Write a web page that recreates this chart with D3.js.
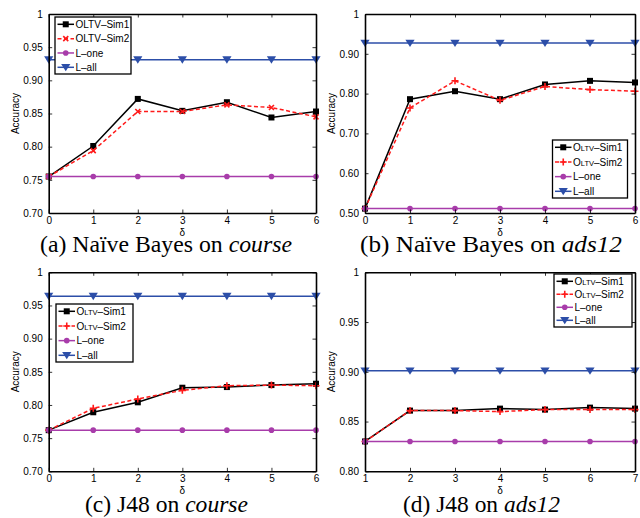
<!DOCTYPE html>
<html><head><meta charset="utf-8">
<script src="https://cdn.jsdelivr.net/npm/d3@7/dist/d3.min.js"></script>
<style>body{margin:0;background:#fff;}svg{display:block;}</style>
</head><body>
<script>
// ---- data ----
const xA = [0,1,2,3,4,5,6];
const simA1 = [0.755,0.801,0.872,0.854,0.867,0.844,0.853];
const simA2 = [0.755,0.794,0.853,0.853,0.863,0.859,0.845];
const oneA  = [0.755,0.755,0.755,0.755,0.755,0.755,0.755];
const allA  = [0.931,0.931,0.931,0.931,0.931,0.931,0.931];
const yTicksA = [0.70,0.75,0.80,0.85,0.90,0.95,1];

const xB = [0,1,2,3,4,5,6];
const simB1 = [0.511,0.786,0.806,0.786,0.823,0.832,0.828];
const simB2 = [0.511,0.764,0.832,0.783,0.818,0.810,0.806];
const oneB  = [0.511,0.511,0.511,0.511,0.511,0.511,0.511];
const allB  = [0.927,0.927,0.927,0.927,0.927,0.927,0.927];
const yTicksB = [0.50,0.60,0.70,0.80,0.90,1];

const xC = [0,1,2,3,4,5,6];
const simC1 = [0.762,0.789,0.804,0.826,0.827,0.830,0.832];
const simC2 = [0.762,0.795,0.809,0.822,0.829,0.830,0.829];
const oneC  = [0.762,0.762,0.762,0.762,0.762,0.762,0.762];
const allC  = [0.964,0.964,0.964,0.964,0.964,0.964,0.964];
const yTicksC = [0.70,0.75,0.80,0.85,0.90,0.95,1];

const xD = [1,2,3,4,5,6,7];
const simD1 = [0.830,0.861,0.861,0.863,0.862,0.864,0.863];
const simD2 = [0.830,0.861,0.861,0.860,0.862,0.862,0.862];
const oneD  = [0.830,0.830,0.830,0.830,0.830,0.830,0.830];
const allD  = [0.901,0.901,0.901,0.901,0.901,0.901,0.901];
const yTicksD = [0.80,0.85,0.90,0.95,1];

const seriesNames = ["Sim1","Sim2","L\u2013one","L\u2013all"];
const titles = [
  ["(a) Na\u00efve Bayes on ","course"],
  ["(b) Na\u00efve Bayes on ","ads12"],
  ["(c) J48 on ","course"],
  ["(d) J48 on ","ads12"]
];

// ---- layout ----
const W = 640, H = 518;
const svg = d3.select("body").append("svg").attr("width",W).attr("height",H);
const FONT = "'Liberation Sans', Arial, Helvetica, sans-serif";
const SERIF = "'Liberation Serif', 'Times New Roman', Times, serif";
const C_ONE = "#a83caa", C_ALL = "#2c4ea8", C_RED = "#ff1a1a";

const panels = [
  {x:xA, s1:simA1, s2:simA2, one:oneA, all:allA, yt:yTicksA, ydom:[0.70,1], box:[48.7,316,14,213],
   sim2mark:"x", smallcaps:false, leg:{x:55,y:17,w:76,h:57}, title:titles[0], tx:40, tw:252, ty:252},
  {x:xB, s1:simB1, s2:simB2, one:oneB, all:allB, yt:yTicksB, ydom:[0.50,1], box:[365,635,14,213],
   sim2mark:"+", smallcaps:true, leg:{x:552.5,y:140,w:75,h:58}, title:titles[1], tx:360, tw:262, ty:252},
  {x:xC, s1:simC1, s2:simC2, one:oneC, all:allC, yt:yTicksC, ydom:[0.70,1], box:[48.7,316,272.3,471.3],
   sim2mark:"+", smallcaps:true, leg:{x:56,y:304,w:77,h:58}, title:titles[2], tx:85, tw:163, ty:512},
  {x:xD, s1:simD1, s2:simD2, one:oneD, all:allD, yt:yTicksD, ydom:[0.80,1], box:[365,635,272.3,471.3],
   sim2mark:"+", smallcaps:true, leg:{x:554,y:274,w:78,h:53}, title:titles[3], tx:403, tw:157, ty:512}
];

function marker(g, type, cx, cy, color){
  if(type==="sq"){
    g.append("rect").attr("x",cx-3).attr("y",cy-3).attr("width",6).attr("height",6).attr("fill","#000");
  } else if(type==="x"){
    g.append("path").attr("d",`M${cx-2.5},${cy-2.5}L${cx+2.5},${cy+2.5}M${cx-2.5},${cy+2.5}L${cx+2.5},${cy-2.5}`)
      .attr("stroke",color).attr("stroke-width",1.6).attr("fill","none");
  } else if(type==="+"){
    g.append("path").attr("d",`M${cx-3.5},${cy}L${cx+3.5},${cy}M${cx},${cy-3.5}L${cx},${cy+3.5}`)
      .attr("stroke",color).attr("stroke-width",1.6).attr("fill","none");
  } else if(type==="o"){
    g.append("circle").attr("cx",cx).attr("cy",cy).attr("r",2.8).attr("fill",color);
  } else if(type==="v"){
    g.append("path").attr("d",`M${cx-4.6},${cy-3.4}L${cx+4.6},${cy-3.4}L${cx},${cy+4}Z`).attr("fill",color);
  }
}

panels.forEach(p=>{
  const [x0,x1,y0,y1] = p.box;
  const xs = d3.scaleLinear().domain(d3.extent(p.x)).range([x0,x1]);
  const ys = d3.scaleLinear().domain(p.ydom).range([y1,y0]);
  const g = svg.append("g");

  const line = (vals)=>d3.line().x((d,i)=>xs(p.x[i])).y(d=>ys(d))(vals);
  const series = [
    {v:p.s1, color:"#000", dash:null, m:"sq"},
    {v:p.s2, color:C_RED, dash:"4,2.5", m:p.sim2mark},
    {v:p.one, color:C_ONE, dash:null, m:"o"},
    {v:p.all, color:C_ALL, dash:null, m:"v"}
  ];
  series.forEach(s=>{
    g.append("path").attr("d",line(s.v)).attr("fill","none").attr("stroke",s.color)
      .attr("stroke-width",1.5).attr("stroke-dasharray",s.dash);
    s.v.forEach((d,i)=>marker(g,s.m,xs(p.x[i]),ys(d),s.color));
  });

  const fmt = d=> d===1 ? "1" : d3.format(".2f")(d);
  const axL = d3.axisLeft(ys).tickValues(p.yt).tickFormat(fmt).tickSizeInner(-3.5).tickSizeOuter(0).tickPadding(6);
  const axR = d3.axisRight(ys).tickValues(p.yt).tickFormat("").tickSizeInner(-3.5).tickSizeOuter(0);
  const axB = d3.axisBottom(xs).tickValues(p.x).tickFormat(d3.format("d")).tickSizeInner(-3.5).tickSizeOuter(0).tickPadding(4);
  const axT = d3.axisTop(xs).tickValues(p.x).tickFormat("").tickSizeInner(-3.5).tickSizeOuter(0);
  const aL = g.append("g").attr("transform",`translate(${x0},0)`).call(axL);
  const aR = g.append("g").attr("transform",`translate(${x1},0)`).call(axR);
  const aB = g.append("g").attr("transform",`translate(0,${y1})`).call(axB);
  const aT = g.append("g").attr("transform",`translate(0,${y0})`).call(axT);
  [aL,aR,aB,aT].forEach(a=>{
    a.select(".domain").attr("stroke","#000").attr("stroke-width",1.6);
    a.selectAll(".tick line").attr("stroke","#000").attr("stroke-width",0.8);
    a.selectAll("text").attr("font-family",FONT).attr("font-size",10).attr("fill","#000");
  });

  g.append("text").attr("transform",`translate(${x0-30},${(y0+y1)/2}) rotate(-90)`)
    .attr("text-anchor","middle").attr("font-family",FONT).attr("font-size",10).text("Accuracy");
  g.append("text").attr("x",(x0+x1)/2).attr("y",y1+23).attr("text-anchor","middle")
    .attr("font-family",FONT).attr("font-size",10).text("\u03b4");

  // legend
  const L = p.leg;
  const lg = g.append("g");
  lg.append("rect").attr("x",L.x).attr("y",L.y).attr("width",L.w).attr("height",L.h)
    .attr("fill","#fff").attr("stroke","#000").attr("stroke-width",1.3);
  const step = (L.h-14)/3;
  series.forEach((s,i)=>{
    const cy = L.y+7.3+i*step;
    const lx0 = L.x+2.5, lx1 = L.x+19;
    lg.append("line").attr("x1",lx0).attr("x2",lx1).attr("y1",cy).attr("y2",cy)
      .attr("stroke",s.color).attr("stroke-width",1.5).attr("stroke-dasharray",s.dash);
    marker(lg,s.m,(lx0+lx1)/2,cy,s.color);
    const t = lg.append("text").attr("x",lx1+1.5).attr("y",cy+3.6)
      .attr("font-family",FONT).attr("font-size",10).attr("fill","#000");
    if(i<2){
      if(p.smallcaps){
        t.append("tspan").text("O");
        t.append("tspan").attr("font-size",7.5).text("LTV");
        t.append("tspan").text("\u2013"+seriesNames[i]);
      } else {
        t.text("OLTV\u2013"+seriesNames[i]);
      }
    } else t.text(seriesNames[i]);
  });

  // caption
  const ct = svg.append("text").attr("x",p.tx).attr("y",p.ty)
    .attr("font-family",SERIF).attr("font-size",23.5).attr("fill","#000")
    .attr("textLength",p.tw).attr("lengthAdjust","spacingAndGlyphs");
  ct.append("tspan").text(p.title[0]);
  ct.append("tspan").attr("font-style","italic").text(p.title[1]);
});
</script>
</body></html>
